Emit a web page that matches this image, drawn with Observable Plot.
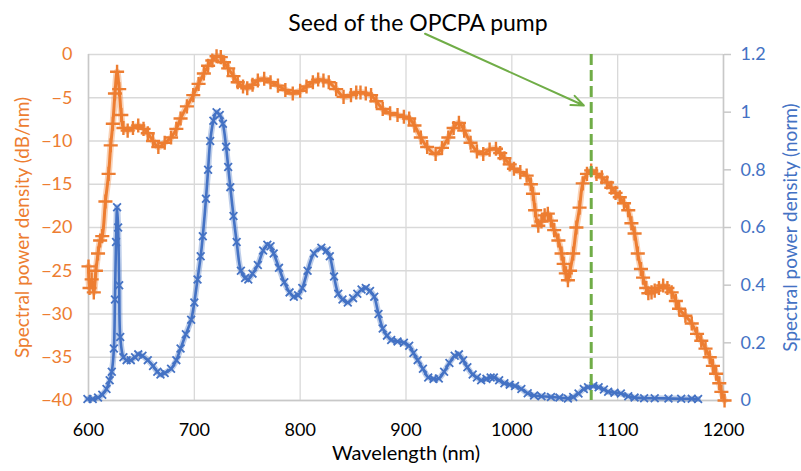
<!DOCTYPE html>
<html>
<head>
<meta charset="utf-8">
<script src="https://cdn.jsdelivr.net/npm/d3@7"></script>
<script src="https://cdn.jsdelivr.net/npm/@observablehq/plot@0.6"></script>
<style>
  body { margin: 0; background: #ffffff; }
  #chart svg { display: block; }
</style>
</head>
<body>
<div id="chart"></div>
<script>
// ---- Data ----
// Orange series: spectral power density (dB/nm), left axis
const dbWavelength = [600,601,603,605,607,609,611,613,616,619,621,623,625,627,629,631,633,637,642,647,652,656,661,666,672,678,683,687,693,699,704,709,713,717,721,725,728,732,737,741,746,750,755,760,766,772,779,786,793,800,806,812,817,822,827,834,841,848,853,857,862,867,872,878,885,892,898,903,908,914,920,928,934,940,945,950,955,961,967,973,979,985,989,993,998,1002,1008,1014,1018,1020,1022,1025,1028,1031,1034,1037,1040,1044,1047,1049,1051,1053,1055,1058,1061,1064,1067,1071,1075,1080,1085,1090,1094,1098,1102,1106,1110,1113,1116,1119,1122,1124,1127,1129,1132,1135,1139,1143,1147,1151,1155,1158,1164,1170,1175,1179,1183,1187,1190,1193,1196,1198,1201];
const dbValues = [-24.5,-27,-26,-27.5,-25,-23,-21.5,-21,-17,-13.8,-10.5,-8,-4.5,-2,-4,-7,-8.5,-8.8,-8.5,-8.2,-8.6,-9.1,-10,-10.7,-10.2,-9.6,-8.6,-7.4,-6,-4.7,-3.4,-2.2,-1.3,-0.7,-0.2,-0.3,-0.9,-1.6,-2.5,-3.2,-3.7,-3.9,-3.5,-3.0,-2.8,-3.2,-3.6,-4.1,-4.5,-4.2,-3.7,-3.2,-2.9,-3.0,-3.2,-4.0,-4.9,-4.7,-4.4,-4.4,-4.5,-4.7,-5.4,-6.3,-6.8,-7.0,-7.2,-7.4,-8.2,-9.6,-10.7,-11.5,-10.8,-9.6,-8.5,-7.9,-8.8,-10.2,-11.2,-11.5,-11.0,-10.9,-11.4,-12.0,-12.7,-13.2,-13.6,-14.0,-15.0,-16.1,-18,-19.8,-19.3,-18.6,-18.4,-19.2,-20.3,-21.5,-23,-24.2,-25.3,-26.1,-25,-23,-20,-17.7,-14.9,-13.8,-13.4,-13.8,-14.2,-14.8,-15.4,-16,-16.5,-17.2,-18,-19.5,-20.7,-23,-24.8,-25.8,-27,-27.6,-27.5,-27.3,-27,-26.7,-27,-27.5,-28.5,-29.4,-30.2,-31.1,-32.3,-33.1,-34,-35,-36,-36.9,-38,-39,-40];

// Blue series: spectral power density (normalised), right axis
const normWavelength = [599,604,609,613,617,620,622,624,625,626,627,628,629,630,633,636,640,644,647,651,656,661,665,668,672,678,683,687,692,697,700,703,706,708,711,713,715,718,721,724,727,730,732,734,737,740,744,748,751,755,760,765,769,772,775,780,785,790,794,798,802,807,813,820,825,828,832,836,840,845,850,854,858,862,866,870,874,878,882,886,892,898,903,907,911,916,921,926,931,936,941,946,950,954,958,963,967,971,976,980,983,988,993,998,1003,1009,1015,1021,1028,1037,1045,1053,1058,1063,1068,1072,1077,1082,1087,1091,1097,1103,1110,1116,1125,1135,1148,1160,1170,1176];
const normValues = [0.005,0.005,0.01,0.02,0.04,0.07,0.1,0.18,0.35,0.55,0.67,0.6,0.4,0.22,0.15,0.14,0.14,0.15,0.16,0.155,0.14,0.12,0.10,0.09,0.095,0.11,0.14,0.18,0.23,0.28,0.34,0.42,0.5,0.57,0.70,0.8,0.9,0.97,1.0,0.99,0.96,0.88,0.81,0.74,0.64,0.55,0.45,0.425,0.42,0.44,0.47,0.52,0.54,0.535,0.51,0.46,0.41,0.375,0.36,0.365,0.39,0.45,0.51,0.53,0.52,0.5,0.43,0.37,0.35,0.34,0.355,0.37,0.385,0.39,0.38,0.36,0.3,0.25,0.225,0.21,0.205,0.2,0.19,0.165,0.14,0.11,0.08,0.075,0.076,0.1,0.13,0.155,0.16,0.14,0.115,0.09,0.08,0.07,0.075,0.08,0.08,0.07,0.06,0.055,0.05,0.04,0.025,0.017,0.015,0.012,0.01,0.007,0.012,0.024,0.04,0.046,0.05,0.046,0.038,0.03,0.027,0.024,0.015,0.01,0.008,0.008,0.007,0.006,0.006,0.005];

// Axes
const xTicks = [600,700,800,900,1000,1100,1200];
const leftTicks = [0,-5,-10,-15,-20,-25,-30,-35,-40];
const rightTicks = [0,0.2,0.4,0.6,0.8,1.0,1.2];
const xLabel = "Wavelength (nm)";
const leftLabel = "Spectral power density (dB/nm)";
const rightLabel = "Spectral power density (norm)";

// Annotation
const seedWavelength = [1075];
const annotationText = ["Seed of the OPCPA pump"];
const arrowStart = {wavelength: 918, db: 2.4};
const arrowEnd = {wavelength: 1068, db: -5.9};

// ---- Build ----
const ORANGE = "#ED7D31", BLUE = "#4472C4", GREEN = "#70AD47";
const leftMin = -40, leftMax = 0, rightMax = 1.2;
const normToLeft = n => leftMin + n / rightMax * (leftMax - leftMin);
const leftToNorm = d => (d - leftMin) / (leftMax - leftMin) * rightMax;

const dbData = dbWavelength.map((w, i) => ({w, v: dbValues[i]}));
const normData = normWavelength.map((w, i) => ({w, v: normToLeft(normValues[i])}));

const chart = Plot.plot({
  width: 801,
  height: 471,
  marginLeft: 88,
  marginRight: 78,
  marginTop: 54,
  marginBottom: 71,
  style: {fontFamily: "Lato, 'Open Sans', sans-serif", fontSize: "18px", background: "#ffffff", overflow: "visible"},
  x: {domain: [600, 1200]},
  y: {domain: [leftMin, leftMax]},
  marks: [
    Plot.gridY(leftTicks, {stroke: "#d9d9d9", strokeOpacity: 1, strokeWidth: 1.3}),
    Plot.gridX(xTicks, {stroke: "#d9d9d9", strokeOpacity: 1, strokeWidth: 1.3}),
    Plot.ruleX([600, 1200], {stroke: "#c8c8c8", strokeWidth: 1.5}),
    Plot.ruleY([leftMin], {stroke: "#c8c8c8", strokeWidth: 1.5}),
    Plot.axisX(xTicks, {anchor: "bottom", tickSize: 0, tickPadding: 23, fontSize: 18, fill: "#000", label: null,
      tickFormat: d => String(d)}),
    Plot.axisY(leftTicks, {anchor: "left", tickSize: 0, tickPadding: 16, fontSize: 18, fill: ORANGE, label: null}),
    Plot.axisY(rightTicks.map(normToLeft), {anchor: "right", tickSize: 7, tickPadding: 10, fontSize: 18,
      stroke: "#c8c8c8", strokeWidth: 1.5, fill: BLUE, label: null,
      tickFormat: d => String(+leftToNorm(d).toFixed(2))}),
    Plot.text([xLabel], {frameAnchor: "bottom", dy: 59, fontSize: 20, fill: "#000"}),
    Plot.text([leftLabel], {frameAnchor: "left", textAnchor: "middle", dx: -66, rotate: -90, fontSize: 19, fill: ORANGE}),
    Plot.text([rightLabel], {frameAnchor: "right", textAnchor: "middle", dx: 67, rotate: -90, fontSize: 19, fill: BLUE}),
    // blue (norm) series
    Plot.line(normData, {x: "w", y: "v", stroke: BLUE, strokeWidth: 6, strokeOpacity: 0.35, curve: "catmull-rom"}),
    Plot.line(normData, {x: "w", y: "v", stroke: BLUE, strokeWidth: 2.6, curve: "catmull-rom"}),
    Plot.dot(normData, {x: "w", y: "v", symbol: "times", r: 3.6, stroke: BLUE, strokeWidth: 1.8}),
    // orange (dB) series
    Plot.line(dbData, {x: "w", y: "v", stroke: ORANGE, strokeWidth: 6.5, strokeOpacity: 0.35, curve: "catmull-rom"}),
    Plot.line(dbData, {x: "w", y: "v", stroke: ORANGE, strokeWidth: 3, curve: "catmull-rom"}),
    Plot.dot(dbData, {x: "w", y: "v", symbol: "plus", r: 4.6, stroke: ORANGE, strokeWidth: 2.4}),
    // seed marker
    Plot.ruleX(seedWavelength, {stroke: GREEN, strokeWidth: 3, strokeDasharray: "11,5"}),
    Plot.arrow([0], {x1: () => arrowStart.wavelength, y1: () => arrowStart.db,
      x2: () => arrowEnd.wavelength, y2: () => arrowEnd.db,
      stroke: GREEN, strokeWidth: 2, headLength: 10, headAngle: 45}),
    Plot.text(annotationText, {frameAnchor: "top", dx: 12, dy: -40, fontSize: 23, fill: "#000"})
  ]
});
document.getElementById("chart").appendChild(chart);
</script>
</body>
</html>
